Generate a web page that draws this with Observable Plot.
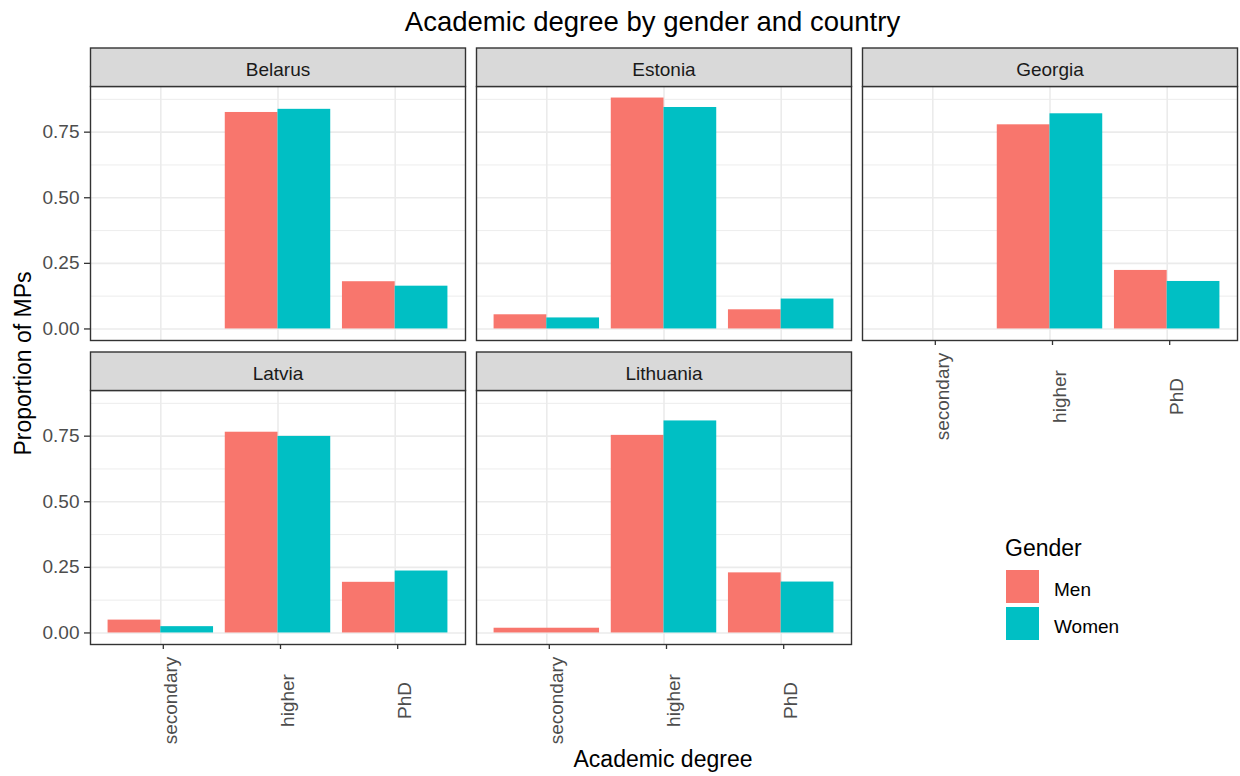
<!DOCTYPE html>
<html>
<head>
<meta charset="utf-8">
<script src="https://cdn.jsdelivr.net/npm/d3@7"></script>
<script src="https://cdn.jsdelivr.net/npm/@observablehq/plot@0.6"></script>
<style>
html, body { margin: 0; padding: 0; background: #fff; }
#wrap { position: relative; width: 1240px; height: 776px; overflow: hidden;
  font-family: "Liberation Sans", Arial, Helvetica, sans-serif; }
#chart { position: absolute; left: 0; top: 0; }
.t { position: absolute; white-space: nowrap; line-height: 1; }
</style>
</head>
<body>
<div id="wrap">
  <div id="chart"></div>
  <div class="t" id="title" style="left:652.5px; top:8.4px; font-size:27.5px; color:#000; transform:translateX(-50%);">Academic degree by gender and country</div>
  <div class="t" id="xtitle" style="left:663px; top:747.5px; font-size:23px; color:#000; transform:translateX(-50%);">Academic degree</div>
  <div class="t" id="ytitle" style="left:-127.5px; top:351.5px; width:300px; height:23px; font-size:23px; color:#000; text-align:center; transform:rotate(-90deg);">Proportion of MPs</div>
  <div id="legend"></div>
</div>
<script>
// ---- data ----
const countries = ["Belarus", "Estonia", "Georgia", "Latvia", "Lithuania"];
const degrees = ["secondary", "higher", "PhD"];
const genders = ["Men", "Women"];
const genderColors = ["#F8766D", "#00BFC4"];
// proportion of MPs per degree (secondary, higher, PhD); null = no bar
const menValues = [
  [null, 0.825, 0.180],   // Belarus
  [0.054, 0.880, 0.073],  // Estonia
  [null, 0.778, 0.223],   // Georgia
  [0.049, 0.765, 0.193],  // Latvia
  [0.018, 0.753, 0.229]   // Lithuania
];
const womenValues = [
  [null, 0.837, 0.163],   // Belarus
  [0.042, 0.844, 0.114],  // Estonia
  [null, 0.820, 0.181],   // Georgia
  [0.024, 0.749, 0.236],  // Latvia
  [null, 0.808, 0.194]    // Lithuania
];
const majorTicks = [0, 0.25, 0.5, 0.75];
const minorTicks = [0.125, 0.375, 0.625, 0.875];

// ---- layout ----
const W = 1240, H = 776;
const panelLeft = 89, panelRight = 1237, panelTop = 86, panelBottom = 644;
const gapX = 11.5, gapY = 50, stripH = 38.5;
const stepX = (panelRight - panelLeft + gapX) / 3;
const stepY = (panelBottom - panelTop + gapY) / 2;
const panelH = stepY - gapY;
const barWidth = 0.9;

// ---- build table (dodged bars as in ggplot position_dodge) ----
const valueSets = [menValues, womenValues];
const rows = [];
countries.forEach((c, ci) => {
  degrees.forEach((d, di) => {
    const present = genders
      .map((g, gi) => ({ g, v: valueSets[gi][ci][di] }))
      .filter(o => o.v != null);
    const w = barWidth / present.length;
    present.forEach((o, k) => {
      const left = di + 1 - barWidth / 2 + k * w;
      rows.push({ country: c, col: ci % 3, row: Math.floor(ci / 3), degree: d,
        gender: o.g, value: o.v, x1: left, x2: left + w });
    });
  });
});
const stripRows = countries.map((c, ci) => ({ country: c, col: ci % 3, row: Math.floor(ci / 3) }));
const maxV = d3.max(rows, r => r.value);

const grid = { stroke: "#ebebeb", strokeOpacity: 1 };
const chart = Plot.plot({
  width: W, height: H,
  marginLeft: panelLeft, marginRight: W - panelRight,
  marginTop: panelTop, marginBottom: H - panelBottom,
  style: { fontFamily: '"Liberation Sans", Arial, Helvetica, sans-serif', background: "transparent", overflow: "visible" },
  fx: { domain: [0, 1, 2], axis: null, paddingInner: gapX / stepX, paddingOuter: 0 },
  fy: { domain: [0, 1], axis: null, paddingInner: gapY / stepY, paddingOuter: 0 },
  x: { type: "linear", domain: [0.4, 3.6], axis: null },
  y: { domain: [-0.05 * maxV, 1.05 * maxV], axis: null },
  color: { domain: genders, range: genderColors },
  marks: [
    Plot.gridY({ ticks: minorTicks, ...grid, strokeWidth: 0.9 }),
    Plot.gridY({ ticks: majorTicks, ...grid, strokeWidth: 1.6 }),
    Plot.gridX({ ticks: [1, 2, 3], ...grid, strokeWidth: 1.6 }),
    Plot.rect(rows, { fx: "col", fy: "row", x1: "x1", x2: "x2", y1: 0, y2: "value", fill: "gender" }),
    Plot.frame({ stroke: "#333333", strokeWidth: 1.4 }),
    Plot.frame({ fill: "#d9d9d9", stroke: "#333333", strokeWidth: 1.4, insetTop: -stripH, insetBottom: panelH }),
    Plot.text(stripRows, { fx: "col", fy: "row", text: "country", frameAnchor: "top", dy: -stripH / 2 - 4.5,
      fontSize: 19, fill: "#1a1a1a" }),
    Plot.axisY({ ticks: majorTicks, tickFormat: d3.format(".2f"), tickSize: 6, tickPadding: 5,
      fontSize: 19, fill: "#4d4d4d", stroke: "#333333", strokeWidth: 1.3, facetAnchor: "left", label: null }),
    Plot.axisX({ ticks: [1, 2, 3], tickFormat: d => degrees[d - 1], tickSize: 5, tickPadding: 51,
      tickRotate: -90, textAnchor: "middle", lineAnchor: "top", dx: 2.5,
      fontSize: 19, fill: "#4d4d4d", stroke: "#333333", strokeWidth: 1.3,
      facetAnchor: "bottom-empty", label: null })
  ]
});
document.getElementById("chart").appendChild(chart);

// ---- legend ----
const legend = document.getElementById("legend");
const lt = document.createElement("div");
lt.className = "t";
lt.style.cssText = "left:1005px; top:536.5px; font-size:23px; color:#000;";
lt.textContent = "Gender";
legend.appendChild(lt);
genders.forEach((g, i) => {
  const sw = document.createElement("div");
  sw.style.cssText = `position:absolute; left:1006px; top:${570 + i * 37}px; width:33px; height:33px; background:${genderColors[i]};`;
  legend.appendChild(sw);
  const lab = document.createElement("div");
  lab.className = "t";
  lab.style.cssText = `left:1054px; top:${580 + i * 37}px; font-size:19px; color:#000; line-height:19px;`;
  lab.textContent = g;
  legend.appendChild(lab);
});
</script>
</body>
</html>
